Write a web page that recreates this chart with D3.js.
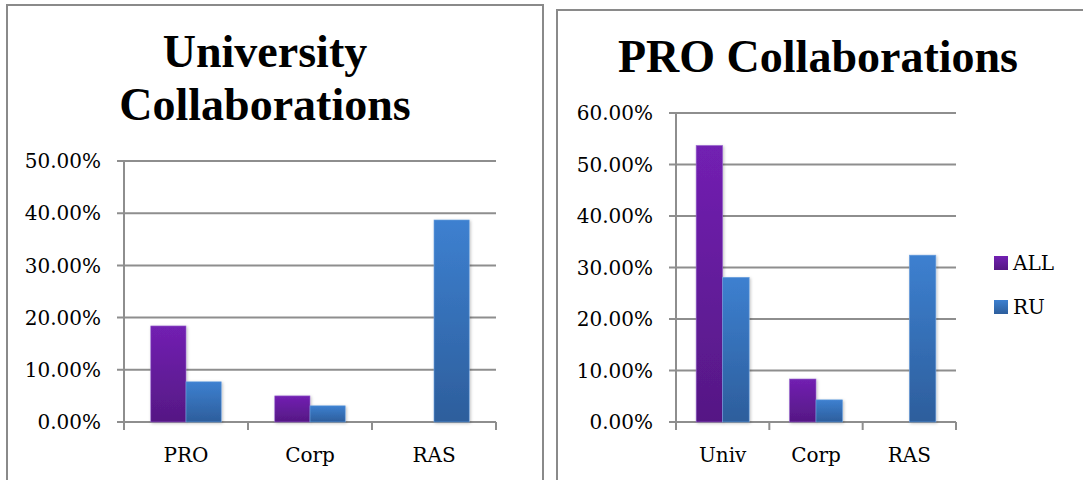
<!DOCTYPE html>
<html>
<head>
<meta charset="utf-8">
<script src="https://cdn.jsdelivr.net/npm/d3@7"></script>
<style>
  body { margin: 0; background: #fff; }
  svg { display: block; }
  text { fill: #000; }
  .title { font-family: "Liberation Serif", "Times New Roman", serif; font-weight: bold; font-size: 46px; }
  .tickLabel { font-family: "DejaVu Serif", serif; font-size: 20px; }
  .grid { stroke: #8e8e8e; stroke-width: 2; }
  .panel { fill: none; stroke: #8a8a8a; stroke-width: 2; }
</style>
</head>
<body>
<svg width="1083" height="480"></svg>
<script>
var width = 1083;
var height = 480;

// series
var seriesNames = ["ALL", "RU"];

// left chart: University Collaborations
var univCategories = ["PRO", "Corp", "RAS"];
var univAll = [0.184, 0.050, 0];
var univRU = [0.077, 0.031, 0.387];
var univTicks = [0, 0.1, 0.2, 0.3, 0.4, 0.5];

// right chart: PRO Collaborations
var proCategories = ["Univ", "Corp", "RAS"];
var proAll = [0.537, 0.0835, 0];
var proRU = [0.281, 0.043, 0.324];
var proTicks = [0, 0.1, 0.2, 0.3, 0.4, 0.5, 0.6];

var svg = d3.select("svg").attr("width", width).attr("height", height);
var defs = svg.append("defs");

function addGradient(id, top, bottom){
  var g = defs.append("linearGradient").attr("id", id)
  .attr("x1", 0).attr("y1", 0).attr("x2", 0).attr("y2", 1);
  g.append("stop").attr("offset", "0%").attr("stop-color", top);
  g.append("stop").attr("offset", "100%").attr("stop-color", bottom);
}
addGradient("gradALL", "#7220b2", "#551884");
addGradient("gradRU", "#3d80d0", "#2d5e9c");

var shadow = defs.append("filter").attr("id", "shadow")
.attr("x", "-20%").attr("y", "-20%").attr("width", "140%").attr("height", "140%");
shadow.append("feDropShadow").attr("dx", 1).attr("dy", 1)
.attr("stdDeviation", 1.5).attr("flood-color", "#000").attr("flood-opacity", 0.25);

var fills = {ALL: "url(#gradALL)", RU: "url(#gradRU)"};
var edges = {ALL: "#9a6ad0", RU: "#6fa3e0"};

// panel borders
svg.append("rect").attr("class", "panel")
.attr("x", 7).attr("y", 5).attr("width", 536).attr("height", 500);
svg.append("rect").attr("class", "panel")
.attr("x", 557).attr("y", 10).attr("width", 560).attr("height", 500);

function drawChart(opt){
  var g = svg.append("g");
  var x = d3.scaleBand().domain(opt.categories).range([opt.left, opt.right]);
  var xSub = d3.scaleBand().domain(seriesNames).range([0, x.bandwidth()])
  .paddingInner(0).paddingOuter(0.76);
  var y = d3.scaleLinear().domain([0, opt.max]).range([opt.bottom, opt.top]);

  // gridlines
  g.selectAll("line.grid").data(opt.ticks).enter()
  .append("line").attr("class", "grid")
  .attr("x1", opt.left - 7).attr("x2", opt.right)
  .attr("y1", function(d){ return y(d); })
  .attr("y2", function(d){ return y(d); });

  // y axis line
  g.append("line").attr("class", "grid")
  .attr("x1", opt.left).attr("x2", opt.left)
  .attr("y1", opt.top).attr("y2", opt.bottom + 8);

  // x ticks at band edges
  var edgesX = opt.categories.map(function(c){ return x(c); }).concat([opt.right]);
  g.selectAll("line.xtick").data(edgesX).enter()
  .append("line").attr("class", "grid")
  .attr("x1", function(d){ return d; }).attr("x2", function(d){ return d; })
  .attr("y1", opt.bottom).attr("y2", opt.bottom + 8);

  // y labels
  g.selectAll("text.ylab").data(opt.ticks).enter()
  .append("text").attr("class", "tickLabel")
  .attr("x", opt.left - 23)
  .attr("y", function(d){ return y(d); })
  .attr("dy", "0.36em")
  .attr("text-anchor", "end")
  .text(function(d){ return (d * 100).toFixed(2) + "%"; });

  // x labels
  g.selectAll("text.xlab").data(opt.categories).enter()
  .append("text").attr("class", "tickLabel")
  .attr("x", function(d){ return x(d) + x.bandwidth() / 2; })
  .attr("y", 462)
  .attr("text-anchor", "middle")
  .text(function(d){ return d; });

  // bars
  var rows = [];
  opt.categories.forEach(function(c, i){
    rows.push({cat: c, series: "ALL", value: opt.all[i]});
    rows.push({cat: c, series: "RU", value: opt.ru[i]});
  });
  g.selectAll("rect.bar").data(rows.filter(function(d){ return d.value > 0; })).enter()
  .append("rect").attr("class", "bar")
  .attr("x", function(d){ return x(d.cat) + xSub(d.series); })
  .attr("y", function(d){ return y(d.value); })
  .attr("width", xSub.bandwidth())
  .attr("height", function(d){ return opt.bottom - y(d.value); })
  .attr("fill", function(d){ return fills[d.series]; })
  .attr("stroke", function(d){ return edges[d.series]; })
  .attr("stroke-width", 0.6)
  .attr("filter", "url(#shadow)");

  // title
  g.selectAll("text.title").data(opt.title).enter()
  .append("text").attr("class", "title")
  .attr("x", opt.titleX)
  .attr("y", function(d, i){ return opt.titleY + i * 53; })
  .attr("text-anchor", "middle")
  .attr("font-size", opt.titleSize)
  .text(function(d){ return d; });
  return g;
}

drawChart({
  categories: univCategories, all: univAll, ru: univRU, ticks: univTicks, max: 0.5,
  left: 124, right: 496, top: 161, bottom: 422,
  title: ["University", "Collaborations"], titleX: 265, titleY: 67, titleSize: "46px"
});

drawChart({
  categories: proCategories, all: proAll, ru: proRU, ticks: proTicks, max: 0.6,
  left: 676, right: 956, top: 113, bottom: 422,
  title: ["PRO Collaborations"], titleX: 818, titleY: 72, titleSize: "45px"
});

// legend
var legend = svg.append("g").selectAll("g").data(seriesNames).enter()
.append("g")
.attr("transform", function(d, i){ return "translate(994," + (256 + i * 44) + ")"; });
legend.append("rect").attr("width", 14).attr("height", 14)
.attr("fill", function(d){ return fills[d]; });
legend.append("text").attr("class", "tickLabel")
.attr("x", 19).attr("y", 14)
.text(function(d){ return d; });
</script>
</body>
</html>
